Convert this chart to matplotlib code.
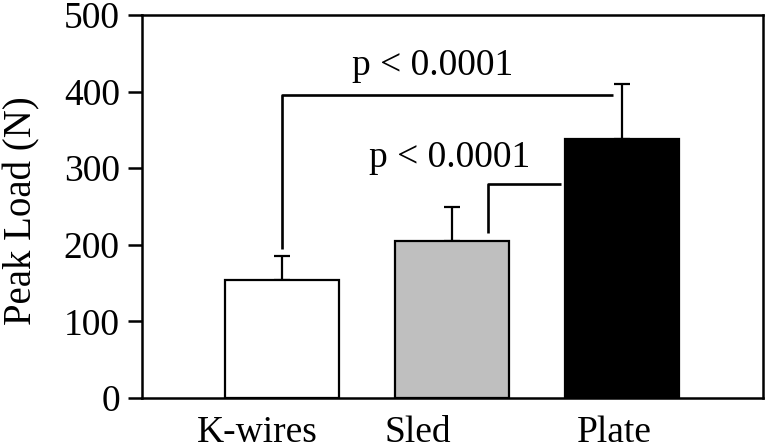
import matplotlib
matplotlib.use("Agg")
import matplotlib.pyplot as plt
import matplotlib.transforms as mtransforms

categories = ["K-wires", "Sled", "Plate"]
means = [154, 205, 338]
errors = [31, 44, 72]
colors = ["white", "#bfbfbf", "black"]
yticks = [0, 100, 200, 300, 400, 500]
p_labels = ["p < 0.0001", "p < 0.0001"]

plt.rcParams['font.family'] = ['Liberation Serif', 'DejaVu Serif']
FS = 27

fig = plt.figure(figsize=(7.67, 4.44), dpi=100)
ax = fig.add_axes([142/767, 1-398/444, 621/767, 383/444])

x = list(range(len(categories)))
ax.bar(x, means, width=0.67, color=colors, edgecolor="black", linewidth=1.6, zorder=2)
ax.errorbar(x, means, yerr=[[0]*3, errors], fmt="none", ecolor="black",
            elinewidth=1.6, capsize=5.5, capthick=1.6, zorder=1)

# significance brackets
lw = 1.9
ax.plot([0, 0, 1.947], [194, 395.5, 395.5], color="black", lw=lw, solid_capstyle="butt")
ax.plot([1.21, 1.21, 1.64], [215, 280, 280], color="black", lw=lw, solid_capstyle="butt")
ax.text(0.888, 422, p_labels[0], ha="center", va="baseline", fontsize=FS)
ax.text(0.988, 302, p_labels[1], ha="center", va="baseline", fontsize=FS)

ax.set_xlim(-0.824, 2.829)
ax.set_ylim(0, 500)
ax.set_yticks(yticks)
ax.set_yticklabels([str(t) for t in yticks], fontsize=FS)
ax.set_xticks(x)
ax.set_xticklabels(categories, fontsize=FS)
ax.tick_params(axis="y", direction="out", length=10, width=1.8, pad=6)
ax.tick_params(axis="x", length=0, pad=12.5)
label_shift_px = [-25, -34, -8]
for lab, dx in zip(ax.get_xticklabels(), label_shift_px):
    off = mtransforms.ScaledTranslation(dx/100, 0, fig.dpi_scale_trans)
    lab.set_transform(lab.get_transform() + off)

for s in ax.spines.values():
    s.set_linewidth(1.8)

ax.set_ylabel("Peak Load (N)", fontsize=28)
ax.yaxis.set_label_coords(-0.163, 0.49)

fig.savefig("out.png", dpi=100)
